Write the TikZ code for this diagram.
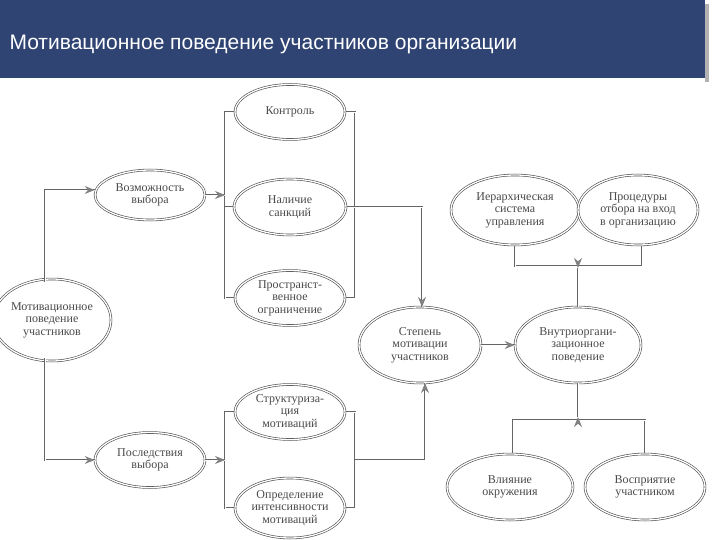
\documentclass[tikz,border=0pt]{standalone}
\usepackage{fontspec}
\setmainfont{Liberation Serif}
\newfontfamily\titlefont{Liberation Sans}
\usetikzlibrary{shapes.geometric,arrows.meta}
\definecolor{bar}{HTML}{2F4473}
\definecolor{ink}{HTML}{4A4A4A}
\begin{document}
\begin{tikzpicture}[x=1pt,y=-1pt,
  el/.style={ellipse,draw=ink,double=white,double distance=1.3pt,line width=0.6pt,fill=white,inner sep=0pt,align=center,font=\fontsize{12}{12.5}\selectfont,text=ink},
  ln/.style={draw=white,line width=0.9pt,preaction={draw=ink!85,line width=2.3pt}},
  tip/.style={draw=ink!70,line width=1pt,-{Stealth[length=10pt,width=8pt]}}]
\useasboundingbox (0,0) rectangle (720,540);
\fill[gray!60] (705,4) rectangle (709,82);
\fill[bar] (0,0) rectangle (705,78);
\node[anchor=west,text=white,font=\titlefont\fontsize{21}{24}\selectfont] (title) at (6,44) {Мотивационное поведение участников организации};
\coordinate (ui) at (578,268); \coordinate (di) at (578,417);
\draw[ln] (335,112) -- (225,112) -- (225,298) -- (335,298);
\draw[ln] (245,112) -- (355,112) -- (355,298) -- (245,298);
\draw[ln] (250,207) -- (225,207);
\draw[ln] (330,207) -- (355,207);
\draw[ln] (255,412) -- (225,412) -- (225,508) -- (255,508);
\draw[ln] (325,412) -- (355,412) -- (355,508) -- (325,508);
\draw[ln] (515,230) -- (515,266) -- (642,266) -- (642,230);
\draw[ln] (513,460) -- (513,420) -- (645,420) -- (645,460);
\node[el,minimum width=110pt,minimum height=55pt] (kon) at (290,112) {Контроль};
\node[el,minimum width=110pt,minimum height=50pt] (voz) at (150,195) {Возможность\\выбора};
\node[el,minimum width=112pt,minimum height=56pt] (nal) at (290,207) {Наличие\\санкций};
\node[el,minimum width=110pt,minimum height=55pt] (pro) at (290,298) {Пространст-\\венное\\ограничение};
\node[el,minimum width=118pt,minimum height=82pt] (mot) at (52,320) {Мотивационное\\поведение\\участников};
\node[el,minimum width=122pt,minimum height=76pt] (ste) at (420,345) {Степень\\мотивации\\участников};
\node[el,minimum width=126pt,minimum height=76pt] (vnu) at (578,345) {Внутриоргани-\\зационное\\поведение};
\node[el,minimum width=128pt,minimum height=70pt] (ier) at (515,210) {Иерархическая\\система\\управления};
\node[el,minimum width=120pt,minimum height=70pt] (prc) at (638,210) {Процедуры\\отбора на вход\\в организацию};
\node[el,minimum width=110pt,minimum height=55pt] (str) at (290,412) {Структуриза-\\ция\\мотиваций};
\node[el,minimum width=110pt,minimum height=55pt] (pos) at (150,460) {Последствия\\выбора};
\node[el,minimum width=110pt,minimum height=60pt] (opr) at (290,508) {Определение\\интенсивности\\мотиваций};
\node[el,minimum width=126pt,minimum height=66pt] (vli) at (510,487) {Влияние\\окружения};
\node[el,minimum width=120pt,minimum height=66pt] (vos) at (645,487) {Восприятие\\участником};
\coordinate (a1) at (voz.west |- 0,190);
\draw[ln] (45,282) -- (45,190) -- (a1);
\draw[ln] (45,358) -- (45,460) -- (pos.west);
\draw[ln] (voz.east) -- (225,195);
\draw[ln] (pos.east) -- (225,460);
\draw[ln] (355,207) -- (422,207) -- (422,307);
\draw[ln] (355,460) -- (425,460) -- (425,383);
\draw[ln] (ste.east) -- (vnu.west);
\draw[ln] (vnu.north) -- (ui);
\draw[ln] (vnu.south) -- (di);
\draw[tip] ([xshift=-6pt]a1) -- (a1);
\draw[tip] ([xshift=-6pt]pos.west) -- (pos.west);
\draw[tip] (219,195) -- (225,195);
\draw[tip] (219,460) -- (225,460);
\draw[tip] (422,300) -- (422,307);
\draw[tip] (425,390) -- (425,383);
\draw[tip] ([xshift=-6pt]vnu.west) -- (vnu.west);
\draw[tip] ([yshift=6pt]ui) -- (ui);
\draw[tip] ([yshift=-6pt]di) -- (di);
\end{tikzpicture}
\end{document}
